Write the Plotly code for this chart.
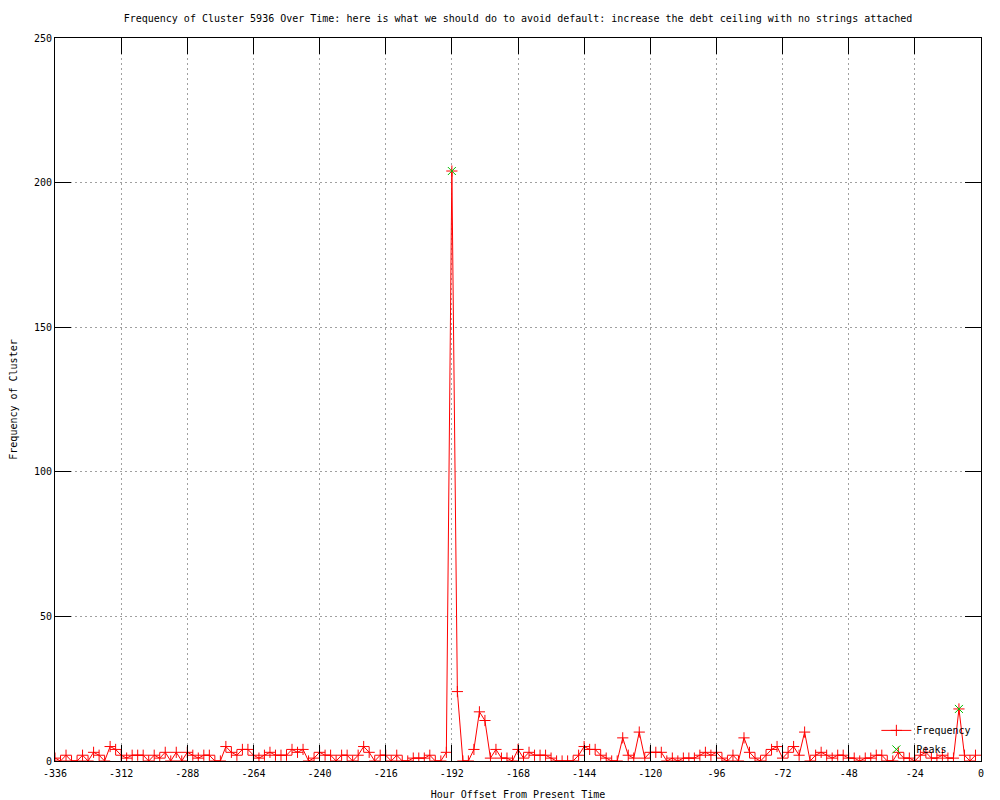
import plotly.graph_objects as go

# Hour offsets (every 2 hours from -336 to -2)
hours = list(range(-336, 0, 2))

frequency = [
    1, 0, 2, 0, 0, 2, 0, 3, 2, 0, 5, 4, 2, 1, 2, 2, 2, 0, 2, 1,   # -336 .. -298
    3, 0, 3, 0, 3, 2, 1, 2, 2, 0, 0, 5, 3,                        # -296 .. -272
    2, 4, 4, 2, 1, 2, 3, 2, 2, 2, 4, 3, 4, 0, 1, 3, 2, 2, 0, 2,   # -270 .. -232
    2, 0, 2, 5, 3, 0, 2, 2, 0, 2, 0, 0, 1, 1, 1, 2,               # -230 .. -200
    0, 0, 3, 204, 24, 0, 0, 4, 17, 14, 1, 4, 1, 1, 0, 4, 1, 3,    # -198 .. -164
    2, 2, 2, 1, 0, 0, 0, 0, 2, 5, 4, 4, 2, 1, 0, 0,               # -162 .. -132
    8, 2, 1, 10, 1, 3, 3, 3, 0, 1, 0, 1, 1, 1, 2, 3, 2, 3, 1, 0,  # -130 .. -92
    2, 0, 8, 3, 1, 0, 2, 4, 5, 1, 3, 5, 2, 10, 0, 2, 3, 2, 1, 2,  # -90 .. -52
    2, 1, 1, 0, 1, 1, 2, 2, 0, 0, 3, 1, 1, 0, 2, 3, 1, 1, 2, 1,   # -50 .. -12
    1, 18, 2, 0, 2,                                               # -10 .. -2
]

peak_hours = [-192, -8]
peak_values = [204, 18]

x_tick_vals = [-336, -312, -288, -264, -240, -216, -192, -168, -144, -120,
               -96, -72, -48, -24, 0]
x_tick_text = ["-336", "-312", "-288", "-264", "-240", "-216", "-192", "-168",
               "-144", "-120", "-96", "-72", "-48", "-24", "0"]
y_tick_vals = [0, 50, 100, 150, 200, 250]
y_tick_text = ["0", "50", "100", "150", "200", "250"]

FONT = "DejaVu Sans Mono"

fig = go.Figure()
fig.add_trace(go.Scatter(
    x=hours, y=frequency, name="Frequency", mode="lines+markers",
    line=dict(color="#ff0000", width=1),
    marker=dict(symbol="cross-thin", size=8, line=dict(color="#ff0000", width=1)),
))
fig.add_trace(go.Scatter(
    x=peak_hours, y=peak_values, name="Peaks", mode="markers",
    marker=dict(symbol="x-thin", size=8, line=dict(color="#00c000", width=1)),
))

axis_common = dict(
    showline=True, linecolor="black", linewidth=1, mirror="ticks",
    ticks="inside", ticklen=16, tickwidth=1, tickcolor="black",
    showgrid=True, gridcolor="#a0a0a0", gridwidth=1, griddash="2px,3px",
    zeroline=False, automargin=False,
    tickfont=dict(family=FONT, size=10, color="black"),
)

fig.update_layout(
    width=1000, height=800,
    margin=dict(l=47, r=27, t=30, b=47),
    paper_bgcolor="white", plot_bgcolor="white",
    font=dict(family=FONT, size=10, color="black"),
    title=dict(
        text="Frequency of Cluster 5936 Over Time: here is what we should do to avoid default: increase the debt ceiling with no strings attached",
        x=0.5, xref="paper", xanchor="center",
        y=1 - 10 / 800, yref="container", yanchor="middle",
        font=dict(family=FONT, size=10, color="black"),
    ),
    xaxis=dict(
        range=[-336, 0], tickvals=x_tick_vals, ticktext=x_tick_text,
        ticklabelstandoff=3,
        title=dict(text="Hour Offset From Present Time",
                   font=dict(family=FONT, size=10, color="black"), standoff=12),
        **axis_common,
    ),
    yaxis=dict(
        range=[0, 250], tickvals=y_tick_vals, ticktext=y_tick_text,
        title=dict(text="Frequency of Cluster",
                   font=dict(family=FONT, size=10, color="black"), standoff=14),
        **axis_common,
    ),
    legend=dict(
        x=0.995, xanchor="right", y=-0.004, yanchor="bottom",
        bgcolor="rgba(0,0,0,0)", borderwidth=0,
        font=dict(family=FONT, size=10, color="black"),
        tracegroupgap=0,
    ),
    showlegend=True,
)

fig.write_html("out.html")
